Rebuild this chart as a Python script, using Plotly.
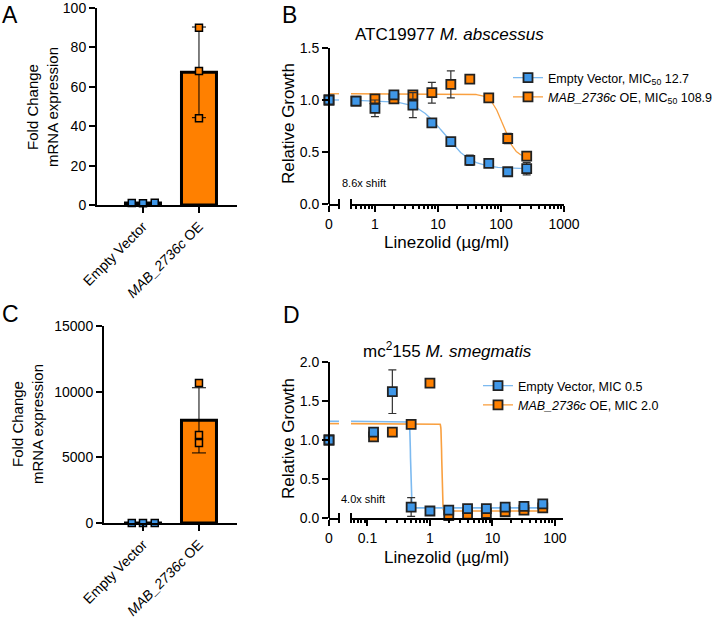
import numpy as np
import plotly.graph_objects as go

W, H = 719, 620

# ---------------- data ----------------
categories = ["Empty Vector", "<i>MAB_2736c</i> OE"]
a_empty_vector = [1.0, 0.9, 1.1]
a_mab_oe = [90.0, 68.0, 44.0]
c_empty_vector = [1.0, 1.0, 1.0]
c_mab_oe = [10660.0, 6700.0, 6090.0]
a_yticks = [0, 20, 40, 60, 80, 100]
c_yticks = [0, 5000, 10000, 15000]

b_conc = [0, 0.5, 1, 2, 4, 8, 16, 32, 64, 128, 256]
b_ev = [1.00, 0.99, 0.92, 1.05, 0.95, 0.78, 0.60, 0.42, 0.39, 0.31, 0.34]
b_ev_sd = [0, 0.02, 0.08, 0.02, 0.12, 0.02, 0.02, 0.05, 0.02, 0.02, 0.06]
b_oe = [1.00, 0.99, 1.01, 1.01, 1.05, 1.07, 1.15, 1.20, 1.02, 0.63, 0.46]
b_oe_sd = [0, 0.01, 0.01, 0.01, 0.02, 0.10, 0.13, 0.04, 0.01, 0.05, 0.02]
b_ev_fit = (1.00, 0.34, 12.7, 2.0)    # top, bottom, IC50, hill slope
b_oe_fit = (1.06, 0.44, 108.9, 4.5)
b_xticks = [1, 10, 100, 1000]
b_yticks = [0.0, 0.5, 1.0, 1.5]

d_conc = [0, 0.125, 0.25, 0.5, 1, 2, 4, 8, 16, 32, 64]
d_ev = [1.00, 1.10, 1.62, 0.14, 0.09, 0.10, 0.12, 0.12, 0.14, 0.15, 0.18]
d_ev_sd = [0, 0.02, 0.28, 0.12, 0.01, 0.01, 0.01, 0.01, 0.01, 0.01, 0.01]
d_oe = [1.00, 1.04, 1.10, 1.20, 1.73, 0.03, 0.05, 0.06, 0.08, 0.10, 0.13]
d_oe_sd = [0, 0.01, 0.01, 0.01, 0.01, 0.01, 0.01, 0.01, 0.01, 0.01, 0.01]
d_ev_fit = (1.24, 0.13, 0.49, 80.0)
d_oe_fit = (1.21, 0.09, 1.55, 80.0)
d_xticks = [0.1, 1, 10, 100]
d_yticks = [0.0, 0.5, 1.0, 1.5, 2.0]

b_legend = ["Empty Vector, MIC<sub>50</sub> 12.7", "<i>MAB_2736c</i> OE, MIC<sub>50</sub> 108.9"]
d_legend = ["Empty Vector, MIC 0.5", "<i>MAB_2736c</i> OE, MIC 2.0"]

# ---------------- style ----------------
FONT = "Arial, Liberation Sans, sans-serif"
BLUE = "#3f97e8"
ORANGE = "#ff8000"
BLUE_LINE = "#7dbaf0"
ORANGE_LINE = "#f9a040"
ERR = "#333333"
jitter = [-0.2, 0.0, 0.21]

def dom_x(a, b):
    return [a / W, b / W]

def dom_y(top, bottom):
    return [1 - bottom / H, 1 - top / H]

def hill(x, p):
    top, bottom, ic50, h = p
    x = np.asarray(x, dtype=float)
    return bottom + (top - bottom) / (1 + (x / ic50) ** h)

fig = go.Figure()

# ---------------- bar panels (A, C) ----------------
def bar_panel(xa, ya, empty, oe):
    means = [float(np.mean(empty)), float(np.mean(oe))]
    sds = [float(np.std(empty, ddof=1)), float(np.std(oe, ddof=1))]
    fig.add_trace(go.Bar(
        x=[0, 1], y=means, width=0.625, xaxis=xa, yaxis=ya,
        marker=dict(color=[BLUE, ORANGE], line=dict(color="black", width=3)),
        error_y=dict(type="data", array=sds, color="black", thickness=1, width=7),
        showlegend=False, hoverinfo="skip"))
    fig.add_trace(go.Scatter(
        x=[0 + j for j in jitter], y=empty, mode="markers", xaxis=xa, yaxis=ya,
        marker=dict(symbol="square", size=7, color=BLUE, line=dict(color="black", width=1.5)),
        cliponaxis=False, showlegend=False))
    fig.add_trace(go.Scatter(
        x=[1, 1, 1], y=oe, mode="markers", xaxis=xa, yaxis=ya,
        marker=dict(symbol="square", size=7, color=ORANGE, line=dict(color="black", width=1.5)),
        cliponaxis=False, showlegend=False))

bar_panel("x", "y", a_empty_vector, a_mab_oe)
bar_panel("x4", "y3", c_empty_vector, c_mab_oe)

# ---------------- dose-response panels (B, D) ----------------
def dr_panel(xz, xl, ya, conc, ev, ev_sd, oe, oe_sd, ev_fit, oe_fit, lo_log, lw):
    cmax = max(conc)
    grid = np.logspace(lo_log, np.log10(cmax), 1500)
    for fit, col in ((oe_fit, ORANGE_LINE), (ev_fit, BLUE_LINE)):
        fig.add_trace(go.Scatter(x=grid, y=hill(grid, fit), mode="lines", xaxis=xl, yaxis=ya,
                                 line=dict(color=col, width=lw), showlegend=False, hoverinfo="skip"))
        fig.add_trace(go.Scatter(x=[0, 1], y=[fit[0], fit[0]], mode="lines", xaxis=xz, yaxis=ya,
                                 line=dict(color=col, width=lw), showlegend=False, hoverinfo="skip"))
    for vals, sd, col in ((oe, oe_sd, ORANGE), (ev, ev_sd, BLUE)):
        mk = dict(symbol="square", size=9, color=col, line=dict(color="#222", width=1.8))
        eb = dict(color=ERR, thickness=1.2, width=4)
        fig.add_trace(go.Scatter(x=[conc[0]], y=[vals[0]], mode="markers", xaxis=xz, yaxis=ya,
                                 marker=mk, error_y=dict(type="data", array=[sd[0]], **eb),
                                 cliponaxis=False, showlegend=False))
        fig.add_trace(go.Scatter(x=conc[1:], y=vals[1:], mode="markers", xaxis=xl, yaxis=ya,
                                 marker=mk, error_y=dict(type="data", array=sd[1:], **eb),
                                 cliponaxis=False, showlegend=False))

B_LO, B_HI = -0.38, 3.0
D_LO, D_HI = -1.264, 2.13
dr_panel("x2", "x3", "y2", b_conc, b_ev, b_ev_sd, b_oe, b_oe_sd, b_ev_fit, b_oe_fit, B_LO, 1.3)
dr_panel("x5", "x6", "y4", d_conc, d_ev, d_ev_sd, d_oe, d_oe_sd, d_ev_fit, d_oe_fit, D_LO, 1.6)

# legend entries
for names, leg in ((b_legend, "legend"), (d_legend, "legend2")):
    for name, col, lcol in zip(names, (BLUE, ORANGE), (BLUE_LINE, ORANGE_LINE)):
        fig.add_trace(go.Scatter(x=[None], y=[None], mode="lines+markers", name=name, legend=leg,
                                 marker=dict(symbol="square", size=9, color=col, line=dict(color="#222", width=1.8)),
                                 line=dict(color=lcol, width=1.3)))

# ---------------- axes ----------------
base = dict(showline=True, linecolor="black", linewidth=2, ticks="outside", tickwidth=2,
            ticklen=6, tickcolor="black", showgrid=False, zeroline=False, automargin=False,
            ticklabeloverflow="allow",
            tickfont=dict(family=FONT, size=14, color="black"))

def minor_vals(lo, hi):
    out = []
    for e in range(int(np.floor(lo)) - 1, int(np.ceil(hi)) + 1):
        for m in range(2, 10):
            v = m * 10.0 ** e
            if 10 ** lo <= v <= 10 ** hi:
                out.append(v)
    return out

cat_font = dict(family=FONT, size=14, color="black")
layout_axes = dict(
    xaxis=dict(base, domain=dom_x(97, 237), range=[-0.821, 1.679], tickvals=[0, 1], ticktext=categories,
               tickangle=-45, anchor="y", tickfont=cat_font),
    yaxis=dict(base, domain=dom_y(8, 205), range=[0, 100], tickvals=a_yticks,
               ticktext=[str(v) for v in a_yticks], anchor="x"),
    xaxis4=dict(base, domain=dom_x(104, 237), range=[(104 - 143) / 56, 1.679], tickvals=[0, 1],
                ticktext=categories, tickangle=-45, anchor="y3", tickfont=cat_font),
    yaxis3=dict(base, domain=dom_y(326, 523), range=[0, 15000], tickvals=c_yticks,
                ticktext=[str(v) for v in c_yticks], anchor="x4"),
    xaxis2=dict(base, domain=dom_x(329, 339), range=[0, 1], tickvals=[0], ticktext=["0"], anchor="y2"),
    xaxis3=dict(base, domain=dom_x(351, 564), type="log", range=[B_LO, B_HI], tickvals=b_xticks,
                ticktext=[str(v) for v in b_xticks], anchor="y2",
                minor=dict(tickvals=minor_vals(B_LO, B_HI), ticks="outside", ticklen=3, tickwidth=1.5,
                           tickcolor="black", showgrid=False)),
    yaxis2=dict(base, domain=dom_y(48, 204), range=[0, 1.5], tickvals=b_yticks,
                ticktext=[f"{v:.1f}" for v in b_yticks], anchor="free", position=329 / W),
    xaxis5=dict(base, domain=dom_x(329, 339), range=[0, 1], tickvals=[0], ticktext=["0"], anchor="y4"),
    xaxis6=dict(base, domain=dom_x(351, 563), type="log", range=[D_LO, D_HI], tickvals=d_xticks,
                ticktext=[str(v) for v in d_xticks], anchor="y4",
                minor=dict(tickvals=minor_vals(D_LO, D_HI), ticks="outside", ticklen=3, tickwidth=1.5,
                           tickcolor="black", showgrid=False)),
    yaxis4=dict(base, domain=dom_y(362, 518), range=[0, 2.0], tickvals=d_yticks,
                ticktext=[f"{v:.1f}" for v in d_yticks], anchor="free", position=329 / W),
)

# ---------------- annotations ----------------
def ann(text, x, y, size, angle=0, xanchor="center"):
    return dict(text=text, x=x / W, y=1 - y / H, xref="paper", yref="paper", showarrow=False,
                xanchor=xanchor, yanchor="middle", textangle=angle,
                font=dict(family=FONT, size=size, color="black"))

annotations = [
    ann("A", 10, 15, 23), ann("B", 289, 15, 23), ann("C", 10, 314, 23), ann("D", 291, 315, 23),
    ann("Fold Change<br>mRNA expression", 42, 107, 15, -90),
    ann("Fold Change<br>mRNA expression", 27, 424, 15, -90),
    ann("Relative Growth", 289, 124, 17, -90),
    ann("Relative Growth", 289, 439, 17, -90),
    ann("Linezolid (µg/ml)", 446, 242, 17),
    ann("Linezolid (µg/ml)", 446, 557, 17),
    ann("ATC19977 <i>M. abscessus</i>", 449, 35, 17),
    ann("mc<sup>2</sup>155 <i>M. smegmatis</i>", 447, 350, 17),
    ann("8.6x shift", 340, 183, 11, xanchor="left"),
    ann("4.0x shift", 339, 499, 11, xanchor="left"),
]

# axis-break marks
shapes = []
for yb in (204, 518):
    for xb in (339, 351):
        shapes.append(dict(type="line", xref="paper", yref="paper", x0=xb / W, x1=xb / W,
                           y0=1 - (yb + 5) / H, y1=1 - (yb - 5) / H, line=dict(color="black", width=2)))

leg_common = dict(xanchor="left", yanchor="top", bgcolor="rgba(0,0,0,0)", borderwidth=0,
                  font=dict(family=FONT, size=12.5, color="black"), tracegroupgap=0)

fig.update_layout(
    width=W, height=H, margin=dict(l=0, r=0, t=0, b=0, autoexpand=False),
    paper_bgcolor="white", plot_bgcolor="white",
    font=dict(family=FONT, color="black"),
    annotations=annotations, shapes=shapes, barmode="overlay",
    legend=dict(leg_common, x=508 / W, y=1 - 63 / H),
    legend2=dict(leg_common, x=478 / W, y=1 - 371 / H),
    **layout_axes,
)

fig.write_html("out.html")
